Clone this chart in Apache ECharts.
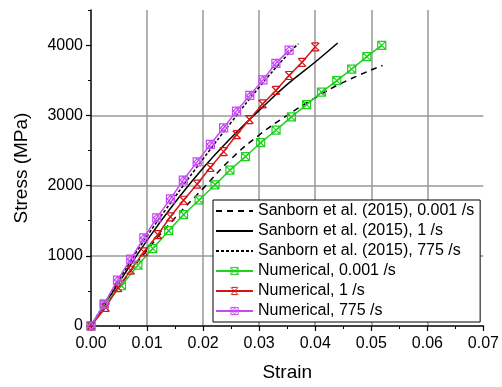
<!DOCTYPE html>
<html><head><meta charset="utf-8">
<script src="https://cdn.jsdelivr.net/npm/echarts@6/dist/echarts.min.js"></script>
<style>html,body{margin:0;padding:0;background:#fff}#c{width:502px;height:387px}</style>
</head><body><div id="c"></div>
<script>
// Data (strain, stress MPa)
const sanborn0001 = [[0,0],[0.005,560],[0.01,1080],[0.015,1540],[0.02,1960],[0.025,2380],[0.03,2720],[0.035,3000],[0.04,3250],[0.045,3470],[0.052,3710]];
const sanborn1 = [[0,0],[0.005,620],[0.01,1220],[0.015,1760],[0.02,2250],[0.025,2680],[0.03,3070],[0.035,3440],[0.04,3760],[0.044,4030]];
const sanborn775 = [[0,0],[0.005,660],[0.01,1280],[0.015,1840],[0.02,2380],[0.025,2900],[0.03,3400],[0.035,3860],[0.037,4020]];
const num0001 = [[0,0],[0.00236,311],[0.00543,573],[0.00837,867],[0.01103,1102],[0.01386,1357],[0.01651,1587],[0.01929,1795],[0.02212,2011],[0.02478,2219],[0.02756,2413],[0.03027,2610],[0.03301,2790],[0.03575,2978],[0.03846,3152],[0.04112,3331],[0.04384,3495],[0.0465,3657],[0.0492,3835],[0.05186,3996]];
const num1 = [[0,0],[0.0026,264],[0.00484,547],[0.00708,796],[0.00944,1056],[0.01192,1300],[0.01416,1555],[0.01651,1791],[0.01894,2021],[0.02129,2257],[0.02365,2483],[0.026,2724],[0.02826,2940],[0.0306,3162],[0.03298,3354],[0.03534,3567],[0.03764,3755],[0.04,3975]];
const num775 = [[0,0],[0.00235,311],[0.00472,654],[0.00708,951],[0.00942,1254],[0.01173,1540],[0.01416,1810],[0.01646,2078],[0.01894,2337],[0.02129,2587],[0.02365,2820],[0.02596,3060],[0.02832,3283],[0.03067,3505],[0.03298,3741],[0.03534,3929]];
const seriesNames = ['Sanborn et al. (2015), 0.001 /s','Sanborn et al. (2015), 1 /s','Sanborn et al. (2015), 775 /s','Numerical, 0.001 /s','Numerical, 1 /s','Numerical, 775 /s'];
const yTicks = [0,1000,2000,3000,4000];

const FONT = 'Liberation Sans';
const GREEN = '#1fd01f', RED = '#d41515', MAG = '#c848f8';
const COLORS = ['#000','#000','#000',GREEN,RED,MAG];
const symSquareX = 'path://M0,0H10V10H0Z M0,0L10,10 M10,0L0,10';
const symStar = 'path://M0,0L10,10 M10,0L0,10 M1,0H9 M1,10H9';
const symSquareO = 'path://M0,0H10V10H0Z M5,1L9,5L5,9L1,5Z';

function sanborn(name, data, type){
  return {name, type:'line', data, symbol:'none', showSymbol:false, smooth:true,
    lineStyle:{color:'#000', width:1.5, type}, itemStyle:{color:'rgba(0,0,0,0)'}, z:3};
}
function numer(name, data, color, sym){
  return {name, type:'line', data, symbol:sym, symbolSize:8, showSymbol:true,
    lineStyle:{color, width:1.5}, itemStyle:{color:'rgba(255,255,255,0)', borderColor:color, borderWidth:1.2}, z:4};
}

const chart = echarts.init(document.getElementById('c'), null, {renderer:'canvas'});
chart.setOption({
  animation:false,
  backgroundColor:'#fff',
  textStyle:{fontFamily:FONT},
  grid:{left:91, right:16, top:10, bottom:59, containLabel:false},
  xAxis:{type:'value', min:0, max:0.07, interval:0.01,
    name:'Strain', nameLocation:'middle', nameGap:37, nameTextStyle:{fontSize:19, color:'#000', fontFamily:FONT},
    axisLine:{show:true, onZero:false, lineStyle:{color:'#000', width:1.5}},
    axisTick:{show:true, inside:false, length:5, lineStyle:{color:'#000', width:1.2}},
    minorTick:{show:true, splitNumber:2, length:3, lineStyle:{color:'#000', width:1}},
    axisLabel:{fontSize:16, color:'#000', margin:10, fontFamily:FONT, formatter:v=>v.toFixed(2)},
    splitLine:{show:true, showMaxLine:false, showMinLine:false, lineStyle:{color:'#999', width:1.5}}},
  yAxis:[{type:'value', min:0, max:4500, interval:1000,
    name:'Stress (MPa)', nameLocation:'middle', nameGap:60, nameTextStyle:{fontSize:19, color:'#000', fontFamily:FONT},
    axisLine:{show:true, onZero:false, lineStyle:{color:'#000', width:1.5}},
    axisTick:{show:true, length:5, customValues:yTicks, lineStyle:{color:'#000', width:1.2}},
    axisLabel:{fontSize:16, color:'#000', margin:8, fontFamily:FONT, customValues:yTicks, formatter:v=>String(v)},
    splitLine:{show:true, showMaxLine:false, showMinLine:false, lineStyle:{color:'#999', width:1.5}}},
    {type:'value', min:0, max:4500, interval:500, position:'left',
    axisLine:{show:false}, axisLabel:{show:false}, splitLine:{show:false},
    axisTick:{show:true, length:3, lineStyle:{color:'#000', width:1}}}],
  legend:{orient:'vertical', left:213, top:200, padding:[2,6,2,2], itemGap:2, itemWidth:37, itemHeight:9,
    backgroundColor:'#fff', borderColor:'#000', borderWidth:1,
    textStyle:{fontSize:16, color:'#000', fontFamily:FONT, lineHeight:18},
    data:seriesNames.map((n,i)=> i<3 ? {name:n} :
      {name:n, itemStyle:{color:'rgba(255,255,255,0)', borderColor:COLORS[i], borderWidth:1}})},
  series:[
    sanborn(seriesNames[0], sanborn0001, [6,5]),
    sanborn(seriesNames[1], sanborn1, 'solid'),
    sanborn(seriesNames[2], sanborn775, [3,2]),
    numer(seriesNames[3], num0001, GREEN, symSquareX),
    numer(seriesNames[4], num1, RED, symStar),
    numer(seriesNames[5], num775, MAG, symSquareO)
  ]
});
</script></body></html>
